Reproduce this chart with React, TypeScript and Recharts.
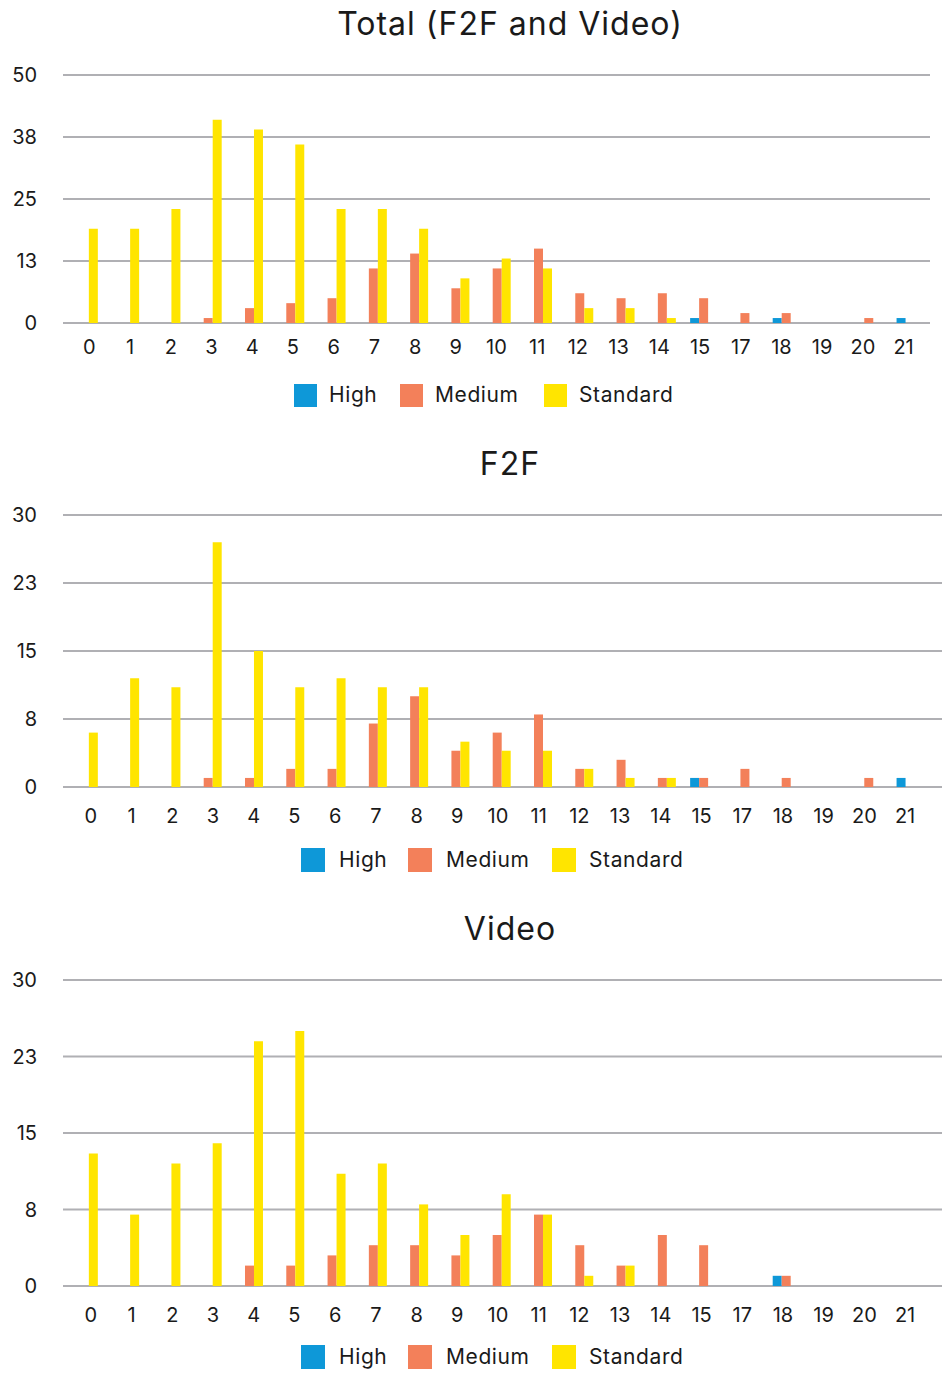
import React from 'react';
import { BarChart, Bar, XAxis, YAxis, CartesianGrid } from 'recharts';

const categories = ['0', '1', '2', '3', '4', '5', '6', '7', '8', '9', '10', '11', '12', '13', '14', '15', '17', '18', '19', '20', '21'];
const seriesNames = ['High', 'Medium', 'Standard'];

const totalHigh = [0, 0, 0, 0, 0, 0, 0, 0, 0, 0, 0, 0, 0, 0, 0, 1, 0, 1, 0, 0, 1];
const totalMedium = [0, 0, 0, 1, 3, 4, 5, 11, 14, 7, 11, 15, 6, 5, 6, 5, 2, 2, 0, 1, 0];
const totalStandard = [19, 19, 23, 41, 39, 36, 23, 23, 19, 9, 13, 11, 3, 3, 1, 0, 0, 0, 0, 0, 0];

const f2fHigh = [0, 0, 0, 0, 0, 0, 0, 0, 0, 0, 0, 0, 0, 0, 0, 1, 0, 0, 0, 0, 1];
const f2fMedium = [0, 0, 0, 1, 1, 2, 2, 7, 10, 4, 6, 8, 2, 3, 1, 1, 2, 1, 0, 1, 0];
const f2fStandard = [6, 12, 11, 27, 15, 11, 12, 11, 11, 5, 4, 4, 2, 1, 1, 0, 0, 0, 0, 0, 0];

const videoHigh = [0, 0, 0, 0, 0, 0, 0, 0, 0, 0, 0, 0, 0, 0, 0, 0, 0, 1, 0, 0, 0];
const videoMedium = [0, 0, 0, 0, 2, 2, 3, 4, 4, 3, 5, 7, 4, 2, 5, 4, 0, 1, 0, 0, 0];
const videoStandard = [13, 7, 12, 14, 24, 25, 11, 12, 8, 5, 9, 7, 1, 2, 0, 0, 0, 0, 0, 0, 0];

const totalTicks = [0, 12.5, 25, 37.5, 50];
const partTicks = [0, 7.5, 15, 22.5, 30];

const COLORS = { High: '#0E98D8', Medium: '#F3805A', Standard: '#FFE500' };
const FONT = 'Inter, "Open Sans", sans-serif';
const GRID = '#b0b0b4';
const TEXT = '#1a1a1a';

function build(high: number[], medium: number[], standard: number[]) {
  return categories.map((c, i) => ({ cat: c, High: high[i], Medium: medium[i], Standard: standard[i] }));
}

type PanelProps = {
  top: number;
  height: number;
  marginTop: number;
  marginRight: number;
  padRight: number;
  xAxisHeight: number;
  tickMargin: number;
  ticks: number[];
  data: any[];
  labelScale: number;
  labelShift: number;
};

function makeXTick(scale: number, shift: number) {
  return (props: any) => {
    const { x, y, payload } = props;
    const nx = 495.5 + (x - 495.5) * scale + shift;
    return (
      <text x={nx} y={y} dy="0.71em" textAnchor="middle" fill={TEXT} fontSize={20} fontFamily={FONT}>
        {payload.value}
      </text>
    );
  };
}

function Panel(p: PanelProps) {
  return (
    <div style={{ position: 'absolute', left: 0, top: p.top }}>
      <BarChart
        width={942}
        height={p.height}
        data={p.data}
        margin={{ top: p.marginTop, right: p.marginRight, left: 0, bottom: 0 }}
        barCategoryGap="19%"
        barGap={0}
      >
        <CartesianGrid vertical={false} stroke={GRID} strokeWidth={2} />
        <XAxis
          dataKey="cat"
          axisLine={false}
          tickLine={false}
          tickSize={0}
          tickMargin={p.tickMargin}
          height={p.xAxisHeight}
          interval={0}
          padding={{ left: 0, right: p.padRight }}
          tick={makeXTick(p.labelScale, p.labelShift)}
        />
        <YAxis
          width={63}
          domain={[0, p.ticks[p.ticks.length - 1]]}
          ticks={p.ticks}
          interval={0}
          axisLine={false}
          tickLine={false}
          tickSize={0}
          tickMargin={26}
          tickFormatter={(v: number) => String(Math.round(v))}
          tick={{ fill: TEXT, fontSize: 20, fontFamily: FONT }}
        />
        {seriesNames.map((s) => (
          <Bar key={s} dataKey={s} fill={(COLORS as any)[s]} isAnimationActive={false} />
        ))}
      </BarChart>
    </div>
  );
}

function Title({ text, centerY }: { text: string; centerY: number }) {
  return (
    <div
      style={{
        position: 'absolute',
        left: 80,
        width: 860,
        top: centerY - 20,
        height: 40,
        lineHeight: '40px',
        textAlign: 'center',
        fontFamily: FONT,
        fontSize: 32,
        letterSpacing: 1,
        color: TEXT,
      }}
    >
      {text}
    </div>
  );
}

function LegendRow({ centerY, squareLefts, textLefts, size }: { centerY: number; squareLefts: number[]; textLefts: number[]; size: number }) {
  return (
    <>
      {seriesNames.map((s, i) => (
        <React.Fragment key={s}>
          <div
            style={{
              position: 'absolute',
              left: squareLefts[i],
              top: centerY - size / 2,
              width: size,
              height: size,
              background: (COLORS as any)[s],
            }}
          />
          <div
            style={{
              position: 'absolute',
              left: textLefts[i],
              top: centerY - 15,
              height: 30,
              lineHeight: '30px',
              fontFamily: FONT,
              fontSize: 21,
              letterSpacing: 0.6,
              color: TEXT,
              whiteSpace: 'nowrap',
            }}
          >
            {s}
          </div>
        </React.Fragment>
      ))}
    </>
  );
}

export default function App() {
  return (
    <div style={{ position: 'absolute', left: 0, top: 0, width: 942, height: 1373, background: '#fff', overflow: 'hidden' }}>
      <Title text="Total (F2F and Video)" centerY={24} />
      <Panel top={0} height={380} marginTop={75} marginRight={12} padRight={0} xAxisHeight={57} tickMargin={17} ticks={totalTicks} data={build(totalHigh, totalMedium, totalStandard)} labelScale={0.986} labelShift={0} />
      <LegendRow centerY={395} squareLefts={[294, 400, 544]} textLefts={[329, 435, 579]} size={23} />

      <Title text="F2F" centerY={464} />
      <Panel top={440} height={400} marginTop={75} marginRight={0} padRight={12} xAxisHeight={53} tickMargin={22} ticks={partTicks} data={build(f2fHigh, f2fMedium, f2fStandard)} labelScale={0.986} labelShift={1.5} />
      <LegendRow centerY={860} squareLefts={[301, 408, 552]} textLefts={[339, 446, 589]} size={24} />

      <Title text="Video" centerY={929} />
      <Panel top={900} height={440} marginTop={80} marginRight={0} padRight={12} xAxisHeight={54} tickMargin={22} ticks={partTicks} data={build(videoHigh, videoMedium, videoStandard)} labelScale={0.986} labelShift={1.5} />
      <LegendRow centerY={1357} squareLefts={[301, 408, 552]} textLefts={[339, 446, 589]} size={24} />
    </div>
  );
}
